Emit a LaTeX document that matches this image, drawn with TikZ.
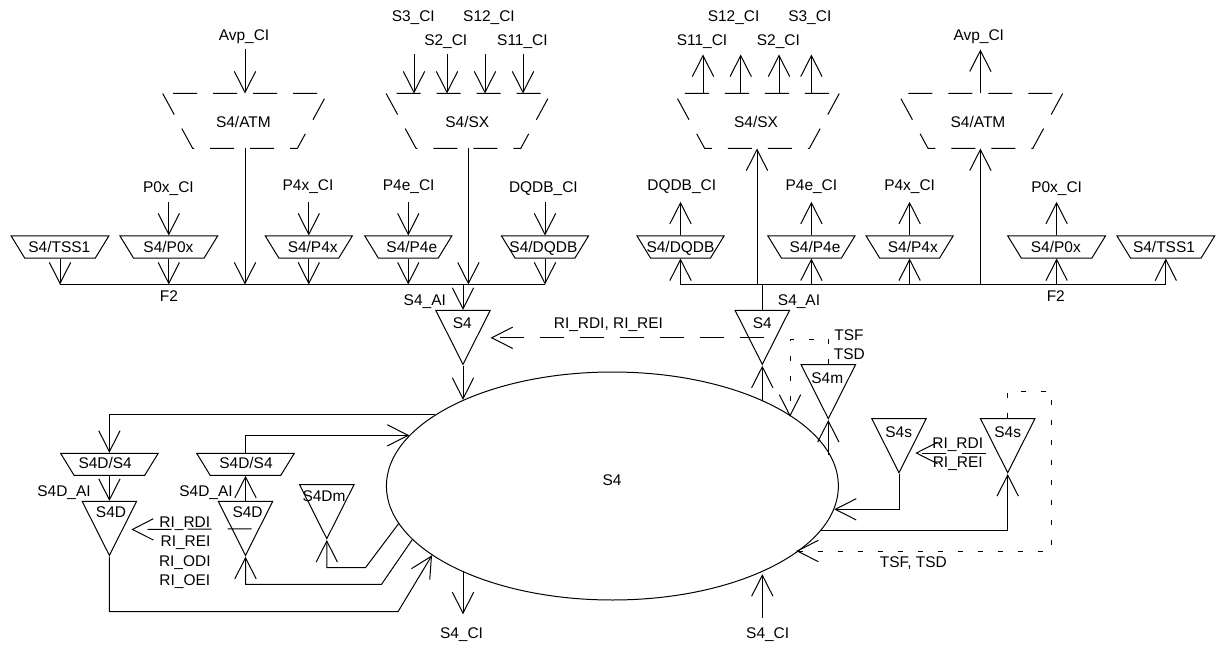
\documentclass[tikz,border=0pt]{standalone}
\usepackage{fontspec}
\setmainfont{Liberation Sans}
\usetikzlibrary{arrows.meta,shapes.geometric}
\tikzset{
    x=0.75pt, y=-0.75pt,
    every path/.style={line width=0.75pt},
    >={Straight Barb[length=15.75pt,width=16pt]},
    txt/.style={font=\fontsize{11.6pt}{13pt}\selectfont, inner sep=0pt, text height=8.3pt, text depth=0pt},
    sband/.style={trapezium, draw, inner sep=0pt, text height=16.5pt, text depth=0pt,
        trapezium left angle=121.5, trapezium right angle=121.5},
    wband/.style={sband, text width=53pt},
    nband/.style={sband, text width=45pt},
    bigband/.style={trapezium, inner sep=0pt, text width=78pt, text height=40.5pt, text depth=0pt,
        trapezium left angle=118.6, trapezium right angle=118.6},
    tri/.style={isosceles triangle, draw, inner sep=0pt, text width=1pt, text height=1pt, anchor=apex, shape border rotate=-90,
        isosceles triangle stretches=true, minimum width=40.8pt, minimum height=40.5pt},
    brk/.style={dash pattern=on 18pt off 12pt},
    dots/.style={dash pattern=on 3.75pt off 11.25pt},
}
\begin{document}
\begin{tikzpicture}
    \useasboundingbox (0,0) rectangle (1216,645);
    \node[ellipse, draw, inner sep=0pt, minimum width=339pt, minimum height=171pt] (elp) at (612.4,486) {};
    \node[txt] (lelp) at (612,480) {S4};
    % left tree
    \node[bigband] (atml) at (245,121) {};
    \node[bigband] (sxl) at (468.4,121) {};
    \node[wband] (tssl) at (60,247) {};
    \node[wband] (p0xl) at (168.8,247) {};
    \node[nband] (p4xl) at (308.8,247) {};
    \node[nband] (p4el) at (408.3,247) {};
    \node[nband] (dqdbl) at (545,247) {};
    \node[tri] (s4l) at (463,365.7) {};
    % right tree
    \node[bigband] (sxr) at (757,121) {};
    \node[bigband] (atmr) at (980.4,121) {};
    \node[nband] (dqdbr) at (680.5,247) {};
    \node[nband] (p4er) at (811.4,247) {};
    \node[nband] (p4xr) at (909.6,247) {};
    \node[wband] (p0xr) at (1056.6,247) {};
    \node[wband] (tssr) at (1165.8,247) {};
    \node[tri] (s4r) at (762.3,365.7) {};
    \node[tri] (s4m) at (828.3,420) {};
    \node[tri] (s4sa) at (899,474) {};
    \node[tri] (s4sb) at (1007.7,474) {};
    % bottom left
    \node[wband] (ddsa) at (109.4,464.3) {};
    \node[wband] (ddsb) at (245.5,464.3) {};
    \node[tri] (s4da) at (109.4,556.7) {};
    \node[tri] (s4db) at (245.5,556.7) {};
    \node[tri] (s4dm) at (326.8,540) {};
    % free ends
    \coordinate (busl) at (60,284.5);
    \coordinate (busr) at (680.5,284.5);
    \coordinate (tipa) at (490.6,338.9);
    \coordinate (tipb) at (131.3,529.5);
    \coordinate (tipc) at (915.3,453);
    \coordinate (stac) at (997,453);
    \coordinate (bena) at (398,611.7);
    \coordinate (benb) at (381.5,584.3);
    \coordinate (benc) at (365.5,567.7);
    \coordinate (dota) at (790,339);
    \coordinate (dotb) at (1051.7,551);
    % dashed bands
    \foreach \n in {atml,sxl}
        \draw[brk] (\n.top left corner) -- (\n.bottom left corner) -- (\n.bottom right corner)
            -- (\n.top right corner) -- cycle;
    \foreach \n in {sxr,atmr}
        \draw[brk] (\n.top right corner) -- (\n.bottom right corner) -- (\n.bottom left corner)
            -- (\n.top left corner) -- cycle;
    % buses
    \draw (busl) -- (dqdbl.bottom side |- busl);
    \draw (busr) -- (tssr.bottom side |- busr);
    \foreach \n in {tssl,p0xl,p4xl,p4el,dqdbl}
        \draw[->] (\n.bottom side) -- (\n.bottom side |- busl);
    \foreach \n in {p0xl,p4xl,p4el,dqdbl}
        \draw[->] (\n.top side) ++(0,-33.7) -- (\n.top side);
    \foreach \n in {atml,sxl}
        \draw[->] (\n.bottom side) -- (\n.bottom side |- busl);
    \draw[->] (atml.top side) ++(0,-44) -- (atml.top side);
    \foreach \d in {-54.4,-21.4,16.6,54.6}
        \draw[->] ([xshift=\d*0.75pt]sxl.top side) ++(0,-39) -- ([xshift=\d*0.75pt]sxl.top side);
    \foreach \n in {dqdbr,p4er,p4xr,p0xr,tssr}
        \draw[->] (\n.bottom side |- busr) -- (\n.bottom side);
    \foreach \n in {dqdbr,p4er,p4xr,p0xr}
        \draw[->] (\n.top side) -- ++(0,-33.7);
    \foreach \n in {sxr,atmr}
        \draw[->] (\n.bottom side |- busr) -- (\n.bottom side);
    \draw[->] (atmr.top side) -- ++(0,-44);
    \foreach \d in {-54,-16.3,22,54.4}
        \draw[->] ([xshift=\d*0.75pt]sxr.top side) -- ++(0,-39);
    \draw[->] (s4l.lower side |- busl) -- (s4l.lower side);
    \draw (s4r.lower side |- busr) -- (s4r.lower side);
    % ellipse connectors
    \draw[->] (s4l.apex) -- (s4l.apex |- elp.150.2);
    \draw[->] (s4r.apex |- elp.29.64) -- (s4r.apex);
    \draw[->] (elp.158.44) -| (ddsa.top side);
    \draw[->] (ddsb.top side) |- (elp.166.4);
    \draw[->] (ddsa.bottom side) -- (s4da.lower side);
    \draw[->] (s4db.lower side) -- (ddsb.bottom side);
    \draw[->] (s4da.apex) |- (bena) -- (elp.201.73);
    \draw[->] (elp.195.41) -- (benb) -| (s4db.apex);
    \draw[->] (elp.190.4) -- (benc) -| (s4dm.apex);
    \draw[->] (s4l.apex |- elp.209.8) -- ++(0,43.7);
    \draw[->] (s4r.apex |- elp.330.36) ++(0,45.4) -- ++(0,-43.4);
    \draw[->] (s4m.apex |- elp.8.87) -- (s4m.apex);
    \draw[->] (s4sa.apex) |- (elp.354.52);
    \draw[->] (elp.348.3) -| (s4sb.apex);
    % alarm lines
    \draw[->, brk, dash phase=20.5pt] (s4r.left side) -- (tipa |- s4r.left side);
    \draw[->, brk, dash phase=24pt] (s4db.left side) -- (tipb);
    \draw[->, brk, dash phase=22pt] (stac) -- (tipc);
    \draw[->, dots] (s4m.lower side) |- (dota) -- (dota |- elp.21.88);
    \draw[->, dots] (s4sb.lower side) -- ++(0,-27) -- ++(44,0) -- (dotb) -- (dotb -| elp.340.71);
    % labels
    \node[txt] (lavpa) at (244,34.7) {Avp\_CI};
    \node[txt] (ls3a) at (413.3,15.7) {S3\_CI};
    \node[txt] (ls12a) at (489,15.7) {S12\_CI};
    \node[txt] (ls2a) at (445.8,40) {S2\_CI};
    \node[txt] (ls11a) at (522.4,40) {S11\_CI};
    \node[txt] (latmn) at (243.4,121.7) {S4/ATM};
    \node[txt] (lsxn) at (467.3,121.7) {S4/SX};
    \node[txt] (lp0a) at (168.4,186.5) {P0x\_CI};
    \node[txt] (lp4xa) at (308,184.5) {P4x\_CI};
    \node[txt] (lp4ea) at (408.7,184.5) {P4e\_CI};
    \node[txt] (ldqa) at (543.4,186.7) {DQDB\_CI};
    \node[txt] (ltssn) at (59.3,246.7) {S4/TSS1};
    \node[txt] (lp0n) at (168.4,246.7) {S4/P0x};
    \node[txt] (lp4xn) at (312.7,246.7) {S4/P4x};
    \node[txt] (lp4en) at (411.8,246.7) {S4/P4e};
    \node[txt] (ldqn) at (543.4,246.7) {S4/DQDB};
    \node[txt] (lf2a) at (169,295.7) {F2};
    \node[txt] (laia) at (424.8,299.7) {S4\_AI};
    \node[txt] (ls4a) at (462.3,322.7) {S4};
    \node[txt] (lrib) at (608.4,322.7) {RI\_RDI, RI\_REI};
    \node[txt] (ls12b) at (733.6,15.7) {S12\_CI};
    \node[txt] (ls3b) at (809.8,15.7) {S3\_CI};
    \node[txt] (ls11b) at (702,40) {S11\_CI};
    \node[txt] (ls2b) at (778.4,40) {S2\_CI};
    \node[txt] (lavpb) at (978.8,34.7) {Avp\_CI};
    \node[txt] (lsxm) at (756,121.7) {S4/SX};
    \node[txt] (latmm) at (978,121.7) {S4/ATM};
    \node[txt] (ldqb) at (681.7,184.5) {DQDB\_CI};
    \node[txt] (lp4eb) at (811.4,184.5) {P4e\_CI};
    \node[txt] (lp4xb) at (909.6,184.5) {P4x\_CI};
    \node[txt] (lp0b) at (1056.6,186.5) {P0x\_CI};
    \node[txt] (ldqm) at (680.5,246.7) {S4/DQDB};
    \node[txt] (lp4em) at (815,246.7) {S4/P4e};
    \node[txt] (lp4xm) at (912.8,246.7) {S4/P4x};
    \node[txt] (lp0m) at (1055.8,246.7) {S4/P0x};
    \node[txt] (ltssm) at (1164,246.7) {S4/TSS1};
    \node[txt] (lf2b) at (1055.8,295.7) {F2};
    \node[txt] (laib) at (799,299.7) {S4\_AI};
    \node[txt] (ls4b) at (762.3,322.7) {S4};
    \node[txt] (ltsfa) at (849,335) {TSF};
    \node[txt] (ltsda) at (849.3,354.3) {TSD};
    \node[txt] (ls4mn) at (827.3,377.7) {S4m};
    \node[txt] (ls4sa) at (898.7,432) {S4s};
    \node[txt] (ls4sb) at (1007.7,432) {S4s};
    \node[txt] (lrirc) at (957.7,442.7) {RI\_RDI};
    \node[txt] (lriec) at (957.7,461.7) {RI\_REI};
    \node[txt] (ltsfb) at (913.3,562.3) {TSF, TSD};
    \node[txt] (lcib) at (767.7,633.3) {S4\_CI};
    \node[txt] (lcia) at (461.5,633.3) {S4\_CI};
    \node[txt] (lddsa) at (105.2,462.7) {S4D/S4};
    \node[txt] (lddsb) at (246,462.7) {S4D/S4};
    \node[txt] (ldaia) at (64,490.7) {S4D\_AI};
    \node[txt] (ldaib) at (206,490.7) {S4D\_AI};
    \node[txt] (ls4da) at (111,511.7) {S4D};
    \node[txt] (ls4db) at (247.6,511.7) {S4D};
    \node[txt] (ls4dm) at (324,495.7) {S4Dm};
    \node[txt] (lrira) at (184.8,522.3) {RI\_RDI};
    \node[txt] (lriea) at (185.6,540.7) {RI\_REI};
    \node[txt] (lrioa) at (184.8,560.7) {RI\_ODI};
    \node[txt] (lriob) at (184.8,580) {RI\_OEI};
\end{tikzpicture}
\end{document}
